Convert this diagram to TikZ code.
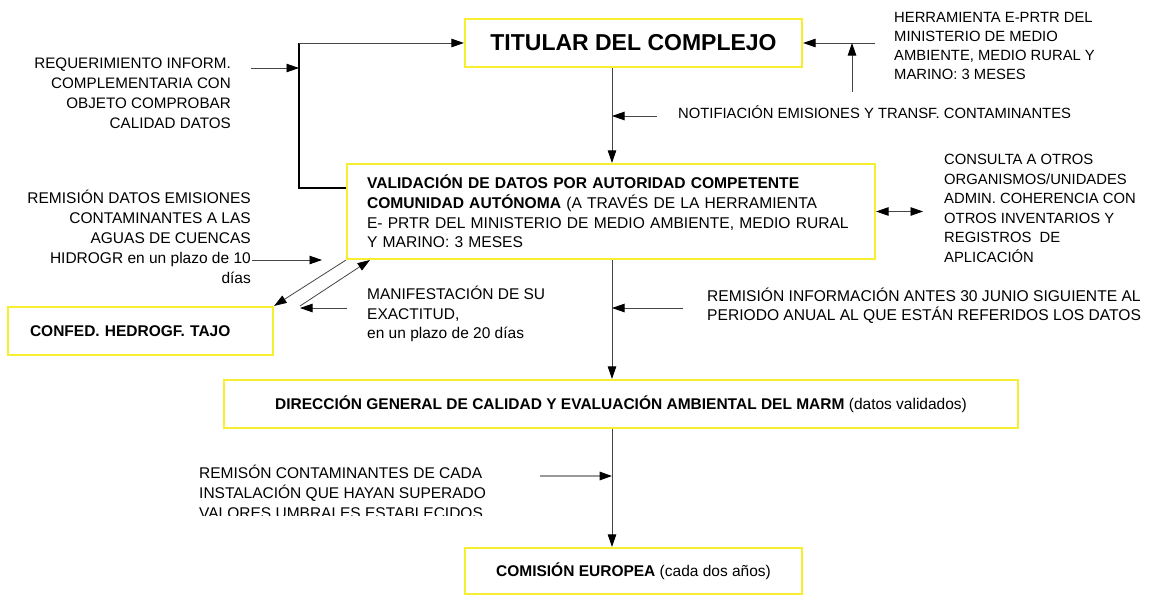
\documentclass[tikz,border=0pt]{standalone}
\usepackage{fontspec}
\setmainfont{Liberation Sans}
\usetikzlibrary{arrows.meta}
\definecolor{boxyellow}{RGB}{248,238,48}
\definecolor{linegray}{RGB}{70,70,70}
\begin{document}
\begin{tikzpicture}[x=1pt,y=-1pt,
  box/.style={draw=boxyellow, line width=2.2pt, rectangle, inner sep=0pt},
  lab/.style={font=\fontsize{15.5}{20}\selectfont, inner sep=0pt},
  labs/.style={font=\fontsize{14.8}{19.5}\selectfont, inner sep=0pt},
  tipA/.tip={Triangle[length=12.5pt,width=8.5pt,color=black,fill=black]},
  arr/.style={draw=linegray, line width=0.8pt, -tipA},
  darr/.style={draw=linegray, line width=0.8pt, tipA-tipA},
  thickarr/.style={draw=gray!80, line width=1.6pt, -tipA}]
\useasboundingbox[fill=white] (0,0) rectangle (1166,595);

% boxes
\node[box, minimum width=337pt, minimum height=48pt, font=\bfseries\fontsize{23}{28}\selectfont] (tit) at (633.5,43) {TITULAR DEL COMPLEJO};
\node[box, minimum width=528pt, minimum height=95pt, text width=488pt, align=left, font=\fontsize{15.6}{19.7}\selectfont] (val) at (611,211.5)
 {\textbf{VALIDACIÓN DE DATOS POR AUTORIDAD COMPETENTE}\\
  \textbf{COMUNIDAD AUTÓNOMA} (A TRAVÉS DE LA HERRAMIENTA\\
  E- PRTR DEL MINISTERIO DE MEDIO AMBIENTE, MEDIO RURAL\\
  Y MARINO: 3 MESES};
\node[box, minimum width=265pt, minimum height=48pt, text width=221pt, align=left, font=\bfseries\fontsize{15.5}{19}\selectfont] (con) at (140.5,331) {CONFED. HEDROGF. TAJO};
\node[box, minimum width=794pt, minimum height=48pt, font=\fontsize{15.5}{19}\selectfont] (dg) at (621,404)
 {\textbf{DIRECCIÓN GENERAL DE CALIDAD Y EVALUACIÓN AMBIENTAL DEL MARM} (datos validados)};
\node[box, minimum width=337pt, minimum height=46pt, font=\fontsize{15.5}{19}\selectfont] (com) at (633.5,571)
 {\textbf{COMISIÓN EUROPEA} (cada dos años)};

% labels
\node[labs, anchor=east, align=right, font=\fontsize{15.2}{20}\selectfont] (req) at (231,93)
 {REQUERIMIENTO INFORM.\\ COMPLEMENTARIA CON\\ OBJETO COMPROBAR\\ CALIDAD DATOS};
\node[labs, anchor=west, align=left, font=\fontsize{14.8}{19}\selectfont] (her) at (894,45.5)
 {HERRAMIENTA E-PRTR DEL\\ MINISTERIO DE MEDIO\\ AMBIENTE, MEDIO RURAL Y\\ MARINO: 3 MESES};
\node[labs, anchor=west] (notif) at (678,112) {NOTIFIACIÓN EMISIONES Y TRANSF. CONTAMINANTES};
\node[labs, anchor=west, align=left] (cons) at (944,208.5)
 {CONSULTA A OTROS\\ ORGANISMOS/UNIDADES\\ ADMIN. COHERENCIA CON\\ OTROS INVENTARIOS Y\\ REGISTROS\ \ DE\\ APLICACIÓN};
\node[lab, anchor=east, align=right] (remd) at (251,236.5)
 {REMISIÓN DATOS EMISIONES\\ CONTAMINANTES A LAS\\ AGUAS DE CUENCAS\\ HIDROGR en un plazo de 10\\ días};
\node[lab, anchor=west, align=left, font=\fontsize{15.5}{19.5}\selectfont] (manif) at (367,314)
 {MANIFESTACIÓN DE SU\\ EXACTITUD,\\ en un plazo de 20 días};
\node[lab, anchor=west, align=left, font=\fontsize{15.6}{19}\selectfont] (remi) at (707,306)
 {REMISIÓN INFORMACIÓN ANTES 30 JUNIO SIGUIENTE AL\\ PERIODO ANUAL AL QUE ESTÁN REFERIDOS LOS DATOS};
\begin{scope}
\clip (150,440) rectangle (600,515.5);
\node[lab, anchor=west, align=left] (remc) at (199,492)
 {REMISÓN CONTAMINANTES DE CADA\\ INSTALACIÓN QUE HAYAN SUPERADO\\ VALORES UMBRALES ESTABLECIDOS};
\end{scope}

% coordinates
\coordinate (vx) at (612,0);
\coordinate (brk) at (299,188);
\coordinate (reqA) at (251,68);
\coordinate (herA) at (875,43);
\coordinate (upA) at (852,92);
\coordinate (notA) at (657,116);
\coordinate (conA) at (923,211.5);
\coordinate (remdA) at (252,260);
\coordinate (remdB) at (322,260);
\coordinate (d2s) at (300,306);
\coordinate (d2e) at (370,260);
\coordinate (manA) at (347,308);
\coordinate (manB) at (300,308);
\coordinate (remiA) at (683,308);
\coordinate (remcA) at (540,476);

% connectors
\draw[arr] (tit.south -| vx) -- (val.north -| vx);
\draw[arr] (val.south -| vx) -- (dg.north -| vx);
\draw[arr] (dg.south -| vx) -- (com.north -| vx);
\draw[line width=2pt] (val.west |- brk) -- (brk) -- (brk |- tit.west);
\draw[arr] (brk |- tit.west) -- (tit.west);
\draw[arr] (reqA) -- (reqA -| brk);
\draw[arr] (herA) -- (tit.east |- herA);
\draw[arr] (upA) -- (upA |- tit.east);
\draw[arr] (notA) -- (notA -| vx);
\draw[darr] (val.east) -- (conA);
\draw[arr] (remdA) -- (remdB);
\draw[arr] (val.south west) -- (con.north east);
\draw[arr] (d2s) -- (d2e);
\draw[arr] (manA) -- (manB);
\draw[arr] (remiA) -- (remiA -| vx);
\draw[thickarr] (remcA) -- (remcA -| vx);
\end{tikzpicture}
\end{document}
